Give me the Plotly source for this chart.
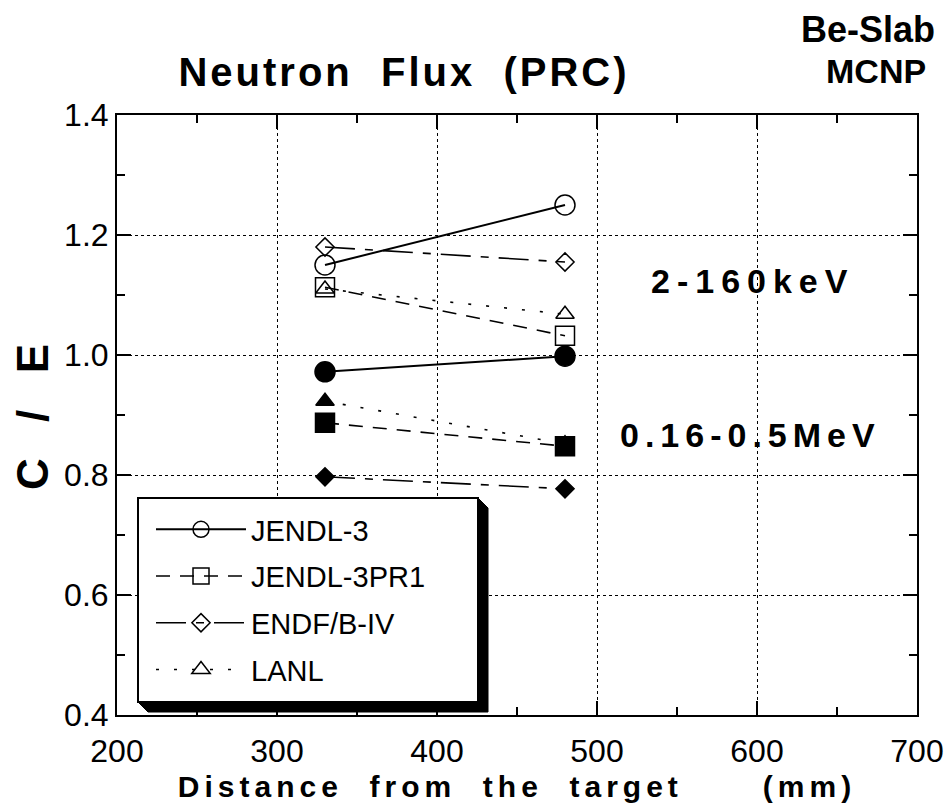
import plotly.graph_objects as go

# ---------------- data ----------------
distance_mm = [330, 480]

series_names = ["JENDL-3", "JENDL-3PR1", "ENDF/B-IV", "LANL"]

# 2-160 keV group (open symbols)
ce_low_jendl3 = [1.150, 1.250]
ce_low_jendl3pr1 = [1.113, 1.032]
ce_low_endfb4 = [1.180, 1.155]
ce_low_lanl = [1.110, 1.068]

# 0.16-0.5 MeV group (filled symbols)
ce_high_jendl3 = [0.972, 0.998]
ce_high_jendl3pr1 = [0.887, 0.848]
ce_high_endfb4 = [0.797, 0.777]
ce_high_lanl = [0.923, 0.852]

x_tick_vals = [200, 300, 400, 500, 600, 700]
x_tick_text = ["200", "300", "400", "500", "600", "700"]
y_tick_vals = [0.4, 0.6, 0.8, 1.0, 1.2, 1.4]
y_tick_text = ["0.4", "0.6", "0.8", "1.0", "1.2", "1.4"]

# ---------------- styles ----------------
FONT = "Liberation Sans, Arial, sans-serif"

styles = {
    "JENDL-3": dict(dash="solid", width=2.0, sym="circle", size=20),
    "JENDL-3PR1": dict(dash="14px,10px", width=1.6, sym="square", size=19),
    "ENDF/B-IV": dict(dash="30px,10px,8px,10px", width=1.6, sym="diamond", size=14),
    "LANL": dict(dash="3px,15px", width=1.6, sym="triangle-up", size=16),
}

low = {
    "JENDL-3": ce_low_jendl3,
    "JENDL-3PR1": ce_low_jendl3pr1,
    "ENDF/B-IV": ce_low_endfb4,
    "LANL": ce_low_lanl,
}
high = {
    "JENDL-3": ce_high_jendl3,
    "JENDL-3PR1": ce_high_jendl3pr1,
    "ENDF/B-IV": ce_high_endfb4,
    "LANL": ce_high_lanl,
}

fig = go.Figure()

for name in series_names:
    st = styles[name]
    fig.add_trace(go.Scatter(
        x=distance_mm, y=high[name], mode="lines+markers", name=name,
        legendgroup=name, showlegend=False,
        line=dict(color="black", width=st["width"], dash=st["dash"]),
        marker=dict(symbol=st["sym"], size=st["size"], color="black",
                    line=dict(color="black", width=1.5)),
    ))

for name in series_names:
    st = styles[name]
    fig.add_trace(go.Scatter(
        x=distance_mm, y=low[name], mode="lines+markers", name=name,
        legendgroup=name, showlegend=True,
        line=dict(color="black", width=st["width"], dash=st["dash"]),
        marker=dict(symbol=st["sym"] + "-open", size=st["size"], color="black",
                    line=dict(color="black", width=1.5)),
    ))

# page has an 8px body margin: figure coords = page coords - 8
OFF = 8
W, H = 952 - 2 * OFF, 811 - 2 * OFF
L, R, T, B = 117 - OFF, 917 - OFF, 115 - OFF, 715 - OFF


def px(xp):
    """page x pixel -> paper fraction"""
    return (xp - OFF - L) / (R - L)


def py(yp):
    """page y pixel -> paper fraction"""
    return (B - (yp - OFF)) / (B - T)


# legend box & drop shadow (decoration)
lg_left, lg_top, lg_right, lg_bottom = 138, 498, 478, 702
sh = 10
shadow_path = (
    f"M{px(lg_left)},{py(lg_bottom)} "
    f"L{px(lg_left + sh)},{py(lg_bottom + sh)} "
    f"L{px(lg_right + sh)},{py(lg_bottom + sh)} "
    f"L{px(lg_right + sh)},{py(lg_top + sh)} "
    f"L{px(lg_right)},{py(lg_top)} "
    f"L{px(lg_right)},{py(lg_bottom)} Z"
)
fig.add_shape(type="path", path=shadow_path, xref="paper", yref="paper",
              fillcolor="black", line=dict(color="black", width=1), layer="above")
fig.add_shape(type="rect", x0=px(lg_left), x1=px(lg_right), y0=py(lg_bottom), y1=py(lg_top),
              xref="paper", yref="paper", fillcolor="white",
              line=dict(color="black", width=2), layer="above")

axis_common = dict(
    showline=True, linecolor="black", linewidth=2, mirror="ticks",
    ticks="inside", ticklen=14, tickwidth=2, tickcolor="black",
    showgrid=True, gridcolor="black", gridwidth=1, griddash="dot",
    zeroline=False, automargin=False,
    tickfont=dict(family=FONT, size=32, color="black"),
)

fig.update_xaxes(
    range=[200, 700], tickmode="array", tickvals=x_tick_vals, ticktext=x_tick_text,
    minor=dict(dtick=50, ticks="inside", ticklen=8, tickwidth=1.5, tickcolor="black", showgrid=False),
    title=dict(text="<b><span style='letter-spacing:5px'>Distance  from  the  target      (mm)</span></b>",
               font=dict(family=FONT, size=30, color="black"), standoff=20),
    ticklabelstandoff=7,
    **axis_common,
)
fig.update_yaxes(
    range=[0.4, 1.4], tickmode="array", tickvals=y_tick_vals, ticktext=y_tick_text,
    minor=dict(dtick=0.1, ticks="inside", ticklen=8, tickwidth=1.5, tickcolor="black", showgrid=False),
    title=dict(text="<b><span style='letter-spacing:4px'>C  /  E</span></b>",
               font=dict(family=FONT, size=44, color="black"), standoff=12),
    ticklabelstandoff=0,
    **axis_common,
)

fig.update_layout(
    width=W, height=H,
    margin=dict(l=L, r=W - R, t=T, b=H - B, autoexpand=False),
    paper_bgcolor="white", plot_bgcolor="white",
    title=dict(text="<b><span style='letter-spacing:3px'>Neutron  Flux  (PRC)</span></b>",
               x=px(404), xref="paper", xanchor="center",
               y=1 - (72 - OFF) / H, yref="container", yanchor="middle",
               font=dict(family=FONT, size=40, color="black")),
    legend=dict(
        x=px(151), y=py(504), xanchor="left", yanchor="top",
        bgcolor="rgba(0,0,0,0)", borderwidth=0,
        font=dict(family=FONT, size=29, color="black"),
        itemwidth=90, tracegroupgap=6, traceorder="grouped",
    ),
    showlegend=True,
)

annots = [
    dict(text="<b>Be-Slab</b>", x=px(868), y=py(29), size=36),
    dict(text="<b>MCNP</b>", x=px(876), y=py(71), size=34),
    dict(text="<b><span style='letter-spacing:7px'>2-160keV</span></b>", x=px(752), y=py(281), size=34),
    dict(text="<b><span style='letter-spacing:6px'>0.16-0.5MeV</span></b>", x=px(750), y=py(435), size=34),
]
for a in annots:
    fig.add_annotation(text=a["text"], x=a["x"], y=a["y"], xref="paper", yref="paper",
                       showarrow=False, xanchor="center", yanchor="middle",
                       font=dict(family=FONT, size=a["size"], color="black"))

fig.write_html("out.html")
